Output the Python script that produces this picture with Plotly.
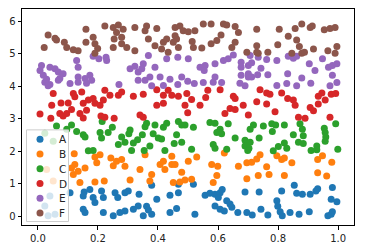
import plotly.graph_objects as go

labels = ["A", "B", "C", "D", "E", "F"]
colors = ["#1f77b4", "#ff7f0e", "#2ca02c", "#d62728", "#9467bd", "#8c564b"]

a_x = [0.107, 0.154, 0.173, 0.151, 0.184, 0.190, 0.212, 0.218, 0.257, 0.266, 0.290, 0.301,
       0.151, 0.157, 0.218, 0.251, 0.273, 0.290, 0.318, 0.334, 0.040, 0.023, 0.034, 0.057,
       0.379, 0.337, 0.440, 0.468, 0.468, 0.518, 0.396, 0.362, 0.368, 0.351, 0.379, 0.440,
       0.462, 0.523, 0.557, 0.573, 0.590, 0.607, 0.614, 0.601, 0.629, 0.640, 0.646, 0.590,
       0.607, 0.621, 0.666, 0.690, 0.696, 0.737, 0.812, 0.854, 0.862, 0.881, 0.907, 0.926,
       0.932, 0.981, 0.977, 0.996, 0.796, 0.799, 0.807, 0.814, 0.743, 0.714, 0.766, 0.840,
       0.870, 0.904, 0.966, 0.977, 0.981]
a_y = [0.72, 0.74, 0.82, 0.62, 0.57, 0.42, 0.77, 0.57, 0.72, 0.57, 0.72, 0.77,
       0.21, 0.11, 0.11, 0.01, 0.11, 0.16, 0.21, 0.31, 0.62, 0.31, 0.01, 0.06,
       0.95, 0.67, 0.64, 0.72, 0.98, 0.98, 0.52, 0.30, 0.19, 0.01, 0.06, 0.11,
       0.23, 0.06, 0.64, 0.70, 0.67, 0.72, 0.82, 0.57, 0.47, 0.37, 0.27, 0.31,
       0.21, 0.16, 0.11, 0.74, 0.11, 0.74, 0.77, 0.95, 0.70, 0.67, 0.67, 0.77,
       0.84, 0.88, 0.52, 0.44, 0.47, 0.30, 0.13, 0.01, 0.21, 0.03, 0.03, 0.11,
       0.06, 0.13, 0.01, 0.06, 0.13]

b_x = [0.121, 0.123, 0.112, 0.118, 0.134, 0.140, 0.157, 0.190, 0.207, 0.196, 0.190, 0.221,
       0.243, 0.251, 0.262, 0.279, 0.290, 0.307, 0.029, 0.051, 0.357, 0.340, 0.379, 0.373,
       0.407, 0.418, 0.423, 0.446, 0.446, 0.457, 0.479, 0.501, 0.529, 0.451, 0.473, 0.490,
       0.512, 0.579, 0.599, 0.596, 0.584, 0.621, 0.668, 0.696, 0.696, 0.712, 0.729, 0.740,
       0.762, 0.734, 0.770, 0.796, 0.812, 0.821, 0.846, 0.821, 0.932, 0.948, 0.979, 0.932,
       0.962]
b_y = [1.92, 1.59, 1.48, 1.28, 1.38, 1.03, 1.48, 1.82, 1.89, 1.64, 1.05, 1.08,
       1.79, 1.55, 1.69, 1.74, 1.53, 1.11, 1.43, 1.08, 1.89, 1.43, 1.28, 1.08,
       1.59, 1.69, 1.43, 1.84, 1.59, 1.59, 1.35, 1.69, 1.82, 1.03, 1.05, 1.11,
       1.13, 1.59, 1.53, 1.25, 1.03, 1.94, 1.53, 1.64, 1.15, 1.66, 1.76, 1.89,
       1.52, 1.25, 1.28, 1.86, 1.74, 1.79, 1.64, 1.25, 1.74, 1.86, 1.66, 1.33,
       1.23]

c_x = [0.062, 0.112, 0.096, 0.129, 0.151, 0.157, 0.214, 0.207, 0.234, 0.248, 0.212, 0.307,
       0.303, 0.279, 0.290, 0.268, 0.318, 0.312, 0.023, 0.051, 0.168, 0.184, 0.362, 0.357,
       0.390, 0.429, 0.418, 0.468, 0.479, 0.490, 0.518, 0.573, 0.590, 0.634, 0.607, 0.596,
       0.612, 0.348, 0.332, 0.384, 0.401, 0.412, 0.462, 0.454, 0.479, 0.373, 0.512, 0.584,
       0.590, 0.629, 0.657, 0.690, 0.690, 0.707, 0.354, 0.423, 0.718, 0.707, 0.751, 0.779,
       0.792, 0.821, 0.781, 0.873, 0.881, 0.851, 0.884, 0.868, 0.884, 0.737, 0.801, 0.821,
       0.829, 0.954, 0.957, 0.959, 0.957, 0.992, 0.910, 0.929, 0.929, 0.999, 0.703, 0.784,
       0.699]
c_y = [2.77, 2.80, 2.67, 2.60, 2.50, 2.43, 2.91, 2.57, 2.57, 2.73, 2.40, 2.65,
       2.53, 2.43, 2.27, 2.20, 2.25, 2.02, 2.55, 2.30, 2.01, 2.02, 2.86, 2.75,
       2.80, 2.86, 2.73, 2.91, 2.80, 2.80, 2.73, 2.88, 2.86, 2.84, 2.67, 2.57,
       2.53, 2.50, 2.35, 2.53, 2.40, 2.37, 2.50, 2.23, 2.27, 2.16, 2.06, 2.20,
       2.09, 2.06, 2.40, 2.33, 2.16, 2.27, 2.02, 2.02, 2.80, 2.67, 2.77, 2.84,
       2.80, 2.80, 2.60, 2.84, 2.67, 2.50, 2.47, 2.27, 2.23, 2.40, 2.14, 2.25,
       2.09, 2.70, 2.57, 2.43, 2.30, 2.84, 2.02, 2.16, 2.04, 2.06, 2.09, 2.01,
       2.02]

d_x = [0.051, 0.046, 0.007, 0.043, 0.077, 0.073, 0.084, 0.101, 0.096, 0.118, 0.123, 0.112,
       0.140, 0.151, 0.146, 0.162, 0.168, 0.184, 0.190, 0.207, 0.218, 0.210, 0.223, 0.151,
       0.223, 0.240, 0.268, 0.279, 0.318, 0.254, 0.340, 0.351, 0.396, 0.396, 0.418, 0.418,
       0.434, 0.446, 0.468, 0.496, 0.490, 0.512, 0.499, 0.540, 0.559, 0.566, 0.607, 0.651,
       0.657, 0.684, 0.623, 0.640, 0.657, 0.351, 0.701, 0.740, 0.762, 0.773, 0.812, 0.729,
       0.762, 0.832, 0.851, 0.857, 0.790, 0.868, 0.890, 0.907, 0.918, 0.934, 0.957, 0.934,
       0.946, 0.977, 0.992, 0.973]
d_y = [3.77, 3.41, 3.14, 3.01, 3.48, 3.16, 3.08, 3.48, 3.16, 3.77, 3.67, 3.28,
       3.16, 3.47, 3.82, 3.26, 3.57, 3.62, 3.47, 3.41, 3.57, 3.08, 3.04, 3.02,
       3.87, 3.72, 3.72, 3.82, 3.69, 3.01, 3.11, 3.75, 3.89, 3.41, 3.72, 3.47,
       3.87, 3.72, 3.69, 3.77, 3.41, 3.59, 3.18, 3.41, 3.65, 3.87, 3.89, 3.69,
       3.62, 3.41, 3.16, 3.31, 3.28, 3.04, 3.11, 3.89, 3.79, 3.75, 3.79, 3.52,
       3.45, 3.62, 3.57, 3.41, 3.21, 3.04, 3.01, 3.34, 3.24, 3.45, 3.57, 3.69,
       3.79, 3.75, 3.77, 3.04]

e_x = [0.184, 0.203, 0.227, 0.229, 0.129, 0.134, 0.012, 0.007, 0.018, 0.040, 0.057, 0.068,
       0.084, 0.073, 0.029, 0.134, 0.157, 0.173, 0.179, 0.107, 0.040, 0.270, 0.307, 0.323,
       0.334, 0.023, 0.034, 0.068, 0.134, 0.162, 0.368, 0.351, 0.346, 0.390, 0.429, 0.466,
       0.501, 0.540, 0.557, 0.554, 0.590, 0.618, 0.634, 0.651, 0.677, 0.677, 0.701, 0.677,
       0.701, 0.334, 0.373, 0.357, 0.407, 0.440, 0.479, 0.499, 0.551, 0.590, 0.612, 0.466,
       0.379, 0.418, 0.521, 0.584, 0.673, 0.690, 0.707, 0.712, 0.734, 0.762, 0.796, 0.743,
       0.701, 0.712, 0.732, 0.766, 0.834, 0.851, 0.862, 0.904, 0.923, 0.948, 0.968, 0.981,
       0.996, 0.981, 0.832, 0.879, 0.909, 0.996, 0.829, 0.796, 0.862, 0.973]
e_y = [4.92, 4.84, 4.89, 4.79, 4.79, 4.58, 4.63, 4.48, 4.33, 4.58, 4.53, 4.43,
       4.38, 4.23, 4.21, 4.28, 4.23, 4.33, 4.18, 4.08, 4.05, 4.05, 4.53, 4.61,
       4.43, 4.12, 4.01, 4.18, 4.12, 4.09, 4.94, 4.69, 4.53, 4.58, 4.84, 4.89,
       4.84, 4.58, 4.63, 4.48, 4.69, 4.79, 4.84, 4.96, 4.73, 4.58, 4.63, 4.33,
       4.28, 4.18, 4.28, 4.18, 4.28, 4.21, 4.28, 4.15, 4.11, 4.28, 4.11, 4.05,
       4.01, 4.02, 4.08, 4.12, 4.09, 4.01, 4.94, 4.72, 4.89, 4.82, 4.79, 4.55,
       4.38, 4.28, 4.35, 4.35, 4.92, 4.86, 4.92, 4.69, 4.48, 4.84, 4.58, 4.63,
       4.69, 4.33, 4.38, 4.25, 4.09, 4.11, 4.08, 4.02, 4.01, 4.01]

f_x = [0.034, 0.057, 0.062, 0.021, 0.088, 0.096, 0.118, 0.134, 0.160, 0.160, 0.184, 0.190,
       0.199, 0.190, 0.223, 0.251, 0.268, 0.262, 0.284, 0.254, 0.279, 0.251, 0.279, 0.296,
       0.323, 0.323, 0.362, 0.357, 0.396, 0.368, 0.390, 0.418, 0.429, 0.412, 0.434, 0.457,
       0.473, 0.484, 0.501, 0.523, 0.457, 0.462, 0.451, 0.468, 0.514, 0.518, 0.546, 0.551,
       0.577, 0.618, 0.629, 0.610, 0.596, 0.577, 0.657, 0.668, 0.657, 0.646, 0.696, 0.729,
       0.804, 0.857, 0.879, 0.907, 0.914, 0.954, 0.973, 0.990, 0.834, 0.862, 0.871, 0.799,
       0.729, 0.729, 0.734, 0.766, 0.846, 0.879, 0.888, 0.918, 0.966, 0.996, 0.990]
f_y = [5.57, 5.47, 5.42, 5.19, 5.35, 5.19, 5.12, 5.09, 5.75, 5.35, 5.50, 5.30,
       5.16, 5.01, 5.85, 5.80, 5.88, 5.65, 5.75, 5.45, 5.50, 5.19, 5.30, 5.19,
       5.80, 5.09, 5.85, 5.70, 5.77, 5.45, 5.24, 5.35, 5.45, 5.14, 5.04, 5.80,
       5.85, 5.70, 5.67, 5.70, 5.55, 5.45, 5.35, 5.19, 5.37, 5.19, 5.17, 5.91,
       5.91, 5.91, 5.88, 5.57, 5.40, 5.30, 5.83, 5.65, 5.35, 5.19, 5.04, 5.75,
       5.75, 5.77, 5.91, 5.80, 5.85, 5.73, 5.77, 5.80, 5.53, 5.42, 5.22, 5.27,
       5.24, 5.04, 5.01, 5.04, 5.01, 5.01, 5.04, 5.14, 5.09, 5.22, 5.01]

xs = [a_x, b_x, c_x, d_x, e_x, f_x]
ys = [a_y, b_y, c_y, d_y, e_y, f_y]

W, H = 366, 252
ML, MR, MT, MB = 22, 12, 8, 26
PW, PH = W - ML - MR, H - MT - MB


def px_x(p):
    return (p - ML) / PW


def px_y(p):
    return (H - MB - p) / PH


fig = go.Figure()
for lab, col, x, y in zip(labels, colors, xs, ys):
    fig.add_trace(go.Scatter(x=x, y=y, mode="markers", name=lab, showlegend=False,
                             marker=dict(color=col, size=7, line=dict(width=0))))

# compact matplotlib-style legend (box, markers, labels)
shapes = [dict(type="rect", xref="paper", yref="paper", layer="above",
               x0=px_x(26.5), x1=px_x(68.5), y0=px_y(222.5), y1=px_y(130),
               fillcolor="rgba(255,255,255,0.8)", line=dict(color="#cccccc", width=1))]
annotations = []
for i, (lab, col) in enumerate(zip(labels, colors)):
    cy = 139.5 + 14.9 * i
    shapes.append(dict(type="circle", xref="paper", yref="paper", layer="above",
                       xsizemode="pixel", ysizemode="pixel",
                       xanchor=px_x(40), yanchor=px_y(cy),
                       x0=-3.5, x1=3.5, y0=-3.5, y1=3.5,
                       fillcolor=col, line=dict(width=0)))
    annotations.append(dict(xref="paper", yref="paper", x=px_x(56.5), y=px_y(cy),
                            xanchor="left", yanchor="middle", showarrow=False,
                            text=lab, font=dict(family="DejaVu Sans", size=10.5,
                                                color="#222222")))

fig.update_layout(
    width=W, height=H,
    margin=dict(l=ML, r=MR, t=MT, b=MB),
    paper_bgcolor="white", plot_bgcolor="white",
    font=dict(family="DejaVu Sans", size=10, color="#222222"),
    showlegend=False,
    shapes=shapes, annotations=annotations,
)
fig.update_xaxes(range=[-0.053, 1.053], tickvals=[0, 0.2, 0.4, 0.6, 0.8, 1.0],
                 tickformat=".1f", showline=True, mirror=True, linecolor="black",
                 linewidth=1, ticks="outside", ticklen=3.5, tickcolor="black",
                 showgrid=False, zeroline=False)
fig.update_yaxes(range=[-0.274, 6.372], tickvals=[0, 1, 2, 3, 4, 5, 6],
                 showline=True, mirror=True, linecolor="black",
                 linewidth=1, ticks="outside", ticklen=3.5, tickcolor="black",
                 showgrid=False, zeroline=False)

fig.write_html("out.html")
